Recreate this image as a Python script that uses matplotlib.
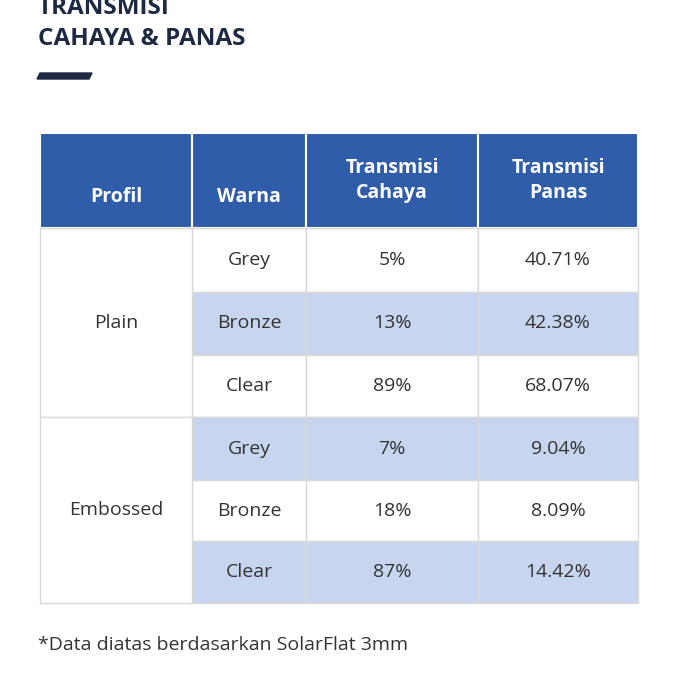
import matplotlib.pyplot as plt
from matplotlib.patches import Rectangle, Polygon

plt.rcParams['font.family'] = ['Open Sans', 'DejaVu Sans']

headers = ["Profil", "Warna", "Transmisi\nCahaya", "Transmisi\nPanas"]
profiles = ["Plain", "Embossed"]
colors = ["Grey", "Bronze", "Clear", "Grey", "Bronze", "Clear"]
cahaya = ["5%", "13%", "89%", "7%", "18%", "87%"]
panas = ["40.71%", "42.38%", "68.07%", "9.04%", "8.09%", "14.42%"]

col_x = [40, 192, 306, 478, 638]
header_top, header_bot = 133, 228
row_y = [228, 292, 355, 417, 480, 541, 603]
shaded = [False, True, False, True, False, True]

blue = "#2f5da9"
light = "#c7d6ee"
grid = "#d9d9d9"
txt = "#333333"

fig = plt.figure(figsize=(6.77, 6.77), dpi=100)
ax = fig.add_axes([0, 0, 1, 1])
ax.set_xlim(0, 677)
ax.set_ylim(677, 0)
ax.axis("off")

# top title line is cut off in the reference too
ax.text(38, 8, "TRANSMISI", fontsize=17.5, fontweight="bold", color="#1e2a44", va="center")
ax.text(38, 39, "CAHAYA & PANAS", fontsize=17.5, fontweight="bold", color="#1e2a44", va="center")
ax.add_patch(Polygon([[40, 73], [92, 73], [89, 79], [37, 79]], color="#1e2a44"))

# header
for i, h in enumerate(headers):
    ax.add_patch(Rectangle((col_x[i], header_top), col_x[i+1]-col_x[i], header_bot-header_top,
                           facecolor=blue, edgecolor="white", lw=1.5))
    ax.text((col_x[i]+col_x[i+1])/2, (header_top+header_bot)/2 + (16 if "\n" not in h else 0), h,
            ha="center", va="center", color="white", fontsize=14, fontweight="bold", linespacing=1.35)

# body rows
for r in range(6):
    y0, y1 = row_y[r], row_y[r+1]
    fc = light if shaded[r] else "white"
    for c in range(1, 4):
        ax.add_patch(Rectangle((col_x[c], y0), col_x[c+1]-col_x[c], y1-y0,
                               facecolor=fc, edgecolor=grid, lw=1))
    ym = (y0+y1)/2
    for c, val in zip(range(1, 4), [colors[r], cahaya[r], panas[r]]):
        ax.text((col_x[c]+col_x[c+1])/2, ym, val, ha="center", va="center", fontsize=14, color=txt)

for p, name in enumerate(profiles):
    y0, y1 = row_y[p*3], row_y[p*3+3]
    ax.add_patch(Rectangle((col_x[0], y0), col_x[1]-col_x[0], y1-y0,
                           facecolor="white", edgecolor=grid, lw=1))
    ax.text((col_x[0]+col_x[1])/2, (y0+y1)/2, name, ha="center", va="center", fontsize=14, color=txt)

ax.text(38, 645, "*Data diatas berdasarkan SolarFlat 3mm", fontsize=14, color=txt, va="center")

fig.savefig("out.png", dpi=100)
